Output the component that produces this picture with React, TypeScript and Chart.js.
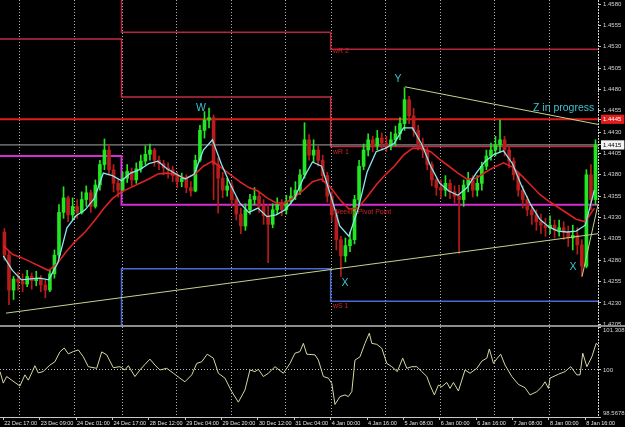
import React, { useEffect, useRef } from 'react';
import { Chart, registerables } from 'chart.js';

Chart.register(...registerables);

const FONT = "'Liberation Sans', Arial, sans-serif";

// ---- time axis (hour bars counted from 22 Dec 17:00) ----
const timeTickHours = [0, 16, 32, 48, 64, 80, 96, 112, 128, 144, 160, 176, 192, 208, 224, 240, 256];
const timeTickLabels = [
  '22 Dec 17:00', '23 Dec 09:00', '24 Dec 01:00', '24 Dec 17:00', '28 Dec 12:00', '29 Dec 04:00',
  '29 Dec 20:00', '30 Dec 12:00', '31 Dec 04:00', '4 Jan 00:00', '4 Jan 16:00', '5 Jan 08:00',
  '6 Jan 00:00', '6 Jan 16:00', '7 Jan 08:00', '8 Jan 00:00', '8 Jan 16:00',
];
const dayStartHours = [7, 31, 52, 76, 100, 124, 144, 168, 192, 216, 240];
const X_MIN = -1.45;
const X_MAX = 261.6;

// ---- candles (2-hour bars) ----
const firstOpen = 1.4313;
const closes = [
  1.4286, 1.4245, 1.4258, 1.4255, 1.4252, 1.4261, 1.4256, 1.4259, 1.4251, 1.4245,
  1.4264, 1.4286, 1.4336, 1.4353, 1.4333, 1.4343, 1.4336, 1.4351, 1.4359, 1.4343,
  1.4368, 1.4392, 1.4409, 1.4386, 1.4370, 1.4362, 1.4376, 1.4384, 1.4374, 1.4387,
  1.4396, 1.4404, 1.4409, 1.4397, 1.4393, 1.4388, 1.4386, 1.4379, 1.4372, 1.4376,
  1.4365, 1.4361, 1.4397, 1.4432, 1.4444, 1.4447, 1.4392, 1.4376, 1.4362, 1.4367,
  1.4351, 1.4334, 1.4320, 1.4339, 1.4351, 1.4355, 1.4343, 1.4332, 1.4322, 1.4339,
  1.4345, 1.4339, 1.4349, 1.4355, 1.4362, 1.4380, 1.4421, 1.4403, 1.4409, 1.4397,
  1.4379, 1.4355, 1.4333, 1.4304, 1.4285, 1.4297, 1.4304, 1.4351, 1.4390, 1.4409,
  1.4421, 1.4414, 1.4423, 1.4417, 1.4414, 1.4421, 1.4428, 1.4440, 1.4468, 1.4449,
  1.4432, 1.4416, 1.4409, 1.4392, 1.4374, 1.4365, 1.4362, 1.4370, 1.4360, 1.4355,
  1.4351, 1.4368, 1.4374, 1.4362, 1.4370, 1.4390, 1.4402, 1.4409, 1.4415, 1.4421,
  1.4409, 1.4396, 1.4380, 1.4362, 1.4351, 1.4339, 1.4333, 1.4325, 1.4321, 1.4318,
  1.4321, 1.4315, 1.4318, 1.4313, 1.4306, 1.4309, 1.4298, 1.4273, 1.4380, 1.4351,
  1.4415,
];
const highs = [
  1.4317, 1.4290, 1.4261, 1.4266, 1.4264, 1.4268, 1.4265, 1.4267, 1.4262, 1.4257,
  1.4268, 1.4292, 1.4345, 1.4366, 1.4355, 1.4353, 1.4351, 1.4360, 1.4367, 1.4362,
  1.4374, 1.4397, 1.4422, 1.4415, 1.4392, 1.4376, 1.4383, 1.4392, 1.4388, 1.4394,
  1.4403, 1.4414, 1.4416, 1.4411, 1.4402, 1.4397, 1.4394, 1.4390, 1.4383, 1.4382,
  1.4380, 1.4372, 1.4403, 1.4438, 1.4454, 1.4458, 1.4450, 1.4400, 1.4383, 1.4376,
  1.4372, 1.4355, 1.4341, 1.4346, 1.4357, 1.4365, 1.4360, 1.4351, 1.4345, 1.4346,
  1.4353, 1.4351, 1.4356, 1.4365, 1.4372, 1.4386, 1.4441, 1.4427, 1.4421, 1.4414,
  1.4403, 1.4383, 1.4360, 1.4339, 1.4308, 1.4306, 1.4313, 1.4356, 1.4397, 1.4416,
  1.4428, 1.4425, 1.4432, 1.4429, 1.4425, 1.4430, 1.4437, 1.4447, 1.4482, 1.4472,
  1.4458, 1.4438, 1.4423, 1.4414, 1.4395, 1.4376, 1.4374, 1.4379, 1.4374, 1.4367,
  1.4368, 1.4374, 1.4383, 1.4379, 1.4379, 1.4395, 1.4409, 1.4417, 1.4425, 1.4444,
  1.4425, 1.4414, 1.4400, 1.4383, 1.4367, 1.4355, 1.4343, 1.4339, 1.4334, 1.4329,
  1.4332, 1.4327, 1.4327, 1.4325, 1.4320, 1.4321, 1.4318, 1.4304, 1.4386, 1.4392,
  1.4421,
];
const lows = [
  1.4280, 1.4228, 1.4234, 1.4245, 1.4243, 1.4249, 1.4246, 1.4250, 1.4243, 1.4236,
  1.4243, 1.4259, 1.4283, 1.4329, 1.4325, 1.4327, 1.4329, 1.4334, 1.4343, 1.4336,
  1.4341, 1.4362, 1.4386, 1.4380, 1.4360, 1.4354, 1.4360, 1.4371, 1.4367, 1.4370,
  1.4383, 1.4392, 1.4397, 1.4390, 1.4386, 1.4380, 1.4376, 1.4372, 1.4365, 1.4366,
  1.4359, 1.4355, 1.4360, 1.4395, 1.4423, 1.4435, 1.4351, 1.4335, 1.4353, 1.4355,
  1.4343, 1.4327, 1.4311, 1.4315, 1.4334, 1.4345, 1.4336, 1.4322, 1.4277, 1.4318,
  1.4334, 1.4332, 1.4334, 1.4346, 1.4351, 1.4357, 1.4376, 1.4397, 1.4395, 1.4390,
  1.4372, 1.4348, 1.4325, 1.4292, 1.4261, 1.4278, 1.4290, 1.4299, 1.4343, 1.4386,
  1.4402, 1.4407, 1.4409, 1.4409, 1.4407, 1.4409, 1.4414, 1.4421, 1.4432, 1.4440,
  1.4425, 1.4409, 1.4400, 1.4386, 1.4367, 1.4356, 1.4353, 1.4355, 1.4352, 1.4347,
  1.4288, 1.4343, 1.4360, 1.4354, 1.4355, 1.4362, 1.4386, 1.4397, 1.4402, 1.4407,
  1.4402, 1.4388, 1.4374, 1.4355, 1.4341, 1.4332, 1.4322, 1.4315, 1.4311, 1.4308,
  1.4311, 1.4306, 1.4308, 1.4304, 1.4296, 1.4292, 1.4287, 1.4261, 1.4271, 1.4339,
  1.4345,
];

// ---- moving averages (sampled every 4 hours from hour 0) ----
const fastMA = [
  1.4285, 1.4268, 1.4257, 1.4258, 1.4259, 1.4257, 1.4277, 1.4318, 1.4332, 1.4339,
  1.4352, 1.4382, 1.4379, 1.4373, 1.4382, 1.4386, 1.4393, 1.4396, 1.4387, 1.4381,
  1.4375, 1.4381, 1.4409, 1.4421, 1.4392, 1.4368, 1.4347, 1.4336, 1.4341, 1.4331,
  1.4333, 1.4339, 1.4352, 1.4376, 1.4395, 1.4390, 1.4356, 1.4320, 1.4308, 1.4339,
  1.4383, 1.4407, 1.4411, 1.4417, 1.4435, 1.4435, 1.4416, 1.4390, 1.4370, 1.4361,
  1.4356, 1.4365, 1.4382, 1.4396, 1.4404, 1.4408, 1.4393, 1.4367, 1.4345, 1.4328,
  1.4319, 1.4314, 1.4313, 1.4314, 1.4321, 1.4362,
];
const slowMA = [
  1.4297, 1.4287, 1.4283, 1.4278, 1.4273, 1.4268, 1.4277, 1.4291, 1.4303, 1.4313,
  1.4326, 1.4340, 1.4352, 1.4360, 1.4365, 1.4370, 1.4375, 1.4381, 1.4382, 1.4380,
  1.4376, 1.4380, 1.4390, 1.4396, 1.4388, 1.4380, 1.4372, 1.4365, 1.4361, 1.4353,
  1.4347, 1.4347, 1.4354, 1.4362, 1.4372, 1.4375, 1.4365, 1.4351, 1.4340, 1.4341,
  1.4354, 1.4368, 1.4380, 1.4390, 1.4403, 1.4411, 1.4411, 1.4407, 1.4398, 1.4390,
  1.4382, 1.4375, 1.4376, 1.4383, 1.4389, 1.4394, 1.4389, 1.4379, 1.4368, 1.4357,
  1.4349, 1.4342, 1.4335, 1.4328, 1.4325, 1.4341,
];

// ---- weekly pivot levels (3 weeks) ----
const weekStartHours = [52, 144];
const weeklyR2 = [1.4601, 1.4547, 1.4527];
const weeklyR1 = [1.4539, 1.4471, 1.4413];
const weeklyPivot = [1.4402, 1.4345, 1.4345];
const weeklyS1 = [1.4180, 1.4270, 1.4232];

// ---- horizontal levels ----
const levelPrice = 1.4445;
const bidPrice = 1.4415;

// ---- trend lines ----
const trendLowHours = [1.2, 261.6];
const trendLowPrices = [1.4218, 1.4311];
const trendYZHours = [176.7, 261.6];
const trendYZPrices = [1.4483, 1.4439];
const trendXHours = [254.6, 261.6];
const trendXPrices = [1.4261, 1.4345];

// ---- price axis ----
const priceTicks = [
  1.4205, 1.4230, 1.4255, 1.4280, 1.4305, 1.4330, 1.4355, 1.4380, 1.4405, 1.4430,
  1.4455, 1.4480, 1.4505, 1.4530, 1.4555, 1.4580,
];
const PRICE_MIN = 1.42041;
const PRICE_MAX = 1.45847;

// ---- momentum sub-window ----
const momHours = [
  -1.45, 0, 1.5, 3.7, 7.3, 9.5, 11, 12.5, 13.9, 15.4, 17.5, 20.5, 22.7, 24.9, 26.8, 28.6, 30.8, 33,
  35.2, 37.4, 41.1, 43.3, 45.5, 48.4, 51.3, 53.5, 55, 57.9, 60.1, 62.3, 64.5, 66.7, 68.9, 71.9,
  74.8, 77.7, 79.9, 82.9, 85.1, 87.3, 89.7, 92.4, 94.6, 97.5, 100.5, 103.4, 106.3, 108.5, 110.7,
  112.2, 114.4, 116.6, 119.5, 123.2, 126.1, 128.3, 130.5, 132, 133.5, 137.1, 138.6, 140.8, 143,
  144.5, 145.9, 148.1, 150.3, 151.8, 153.3, 154.7, 156.9, 159.1, 161, 162.1, 164.3, 166.5, 168.7,
  170.9, 173.3, 175.7, 177.5, 179.7, 181.9, 184.1, 186.3, 187.7, 189.6, 191.4, 192.9, 195.1, 196.5,
  198, 200.2, 203.1, 205.3, 208.3, 210.5, 212.7, 213.8, 215.6, 217.3, 218.8, 220.7, 223.7, 226.6,
  229.5, 231.7, 234.7, 236.9, 238.3, 239.8, 240.5, 244.2, 247.1, 249.6, 252.3, 253.7, 254.9, 256.7,
  258.9, 260.8, 261.6,
];
const momValues = [
  99.95, 99.60, 99.80, 99.69, 99.51, 99.85, 99.69, 99.91, 100.13, 99.91, 99.95, 100.15, 100.25, 100.55,
  100.67, 100.49, 100.56, 100.61, 100.40, 100.10, 100.05, 100.55, 100.46, 100.07, 100.10, 100.00,
  100.13, 99.80, 100.00, 100.17, 100.33, 100.15, 100.00, 100.05, 99.90, 99.75, 99.64, 99.85, 100.20,
  100.25, 100.48, 100.36, 99.90, 99.75, 99.34, 99.02, 99.39, 100.00, 99.95, 100.02, 99.80, 99.90,
  100.10, 99.90, 100.20, 100.51, 100.56, 100.81, 100.48, 100.46, 100.30, 99.80, 99.75, 99.59, 98.95,
  99.19, 99.24, 99.19, 99.34, 100.30, 100.40, 100.81, 101.12, 100.81, 100.78, 100.66, 100.20, 100.10,
  99.95, 100.36, 100.05, 100.10, 100.10, 99.95, 99.80, 99.54, 99.24, 99.54, 99.49, 99.62, 99.44,
  99.62, 99.36, 100.00, 99.90, 100.05, 100.27, 100.36, 100.64, 100.20, 100.36, 100.48, 100.15, 99.80,
  99.56, 99.46, 99.24, 99.34, 99.49, 99.64, 99.44, 99.75, 99.87, 99.95, 100.10, 99.85, 99.85, 100.51,
  100.10, 100.40, 100.81, 100.76,
];
const momTicks = [98.5678, 100, 101.308];
const momTickLabels = ['98.5678', '100', '101.308'];
const MOM_MIN = 98.5678;
const MOM_MAX = 101.308;

// ---- text annotations ----
const waveLabels = ['W', 'Y', 'X', 'X', 'Z in progress'];
const waveLabelHours = [87, 173.6, 150.3, 250.6, 233];
const waveLabelPrices = [1.4458, 1.4492, 1.4253, 1.4272, 1.4458];
const pivotLabels = ['wR 2', 'wR 1', 'Weekly Pivot Point', 'wS 1'];
const pivotLabelHour = 145;
const pivotLabelPrices = [1.4525, 1.4407, 1.4336, 1.4226];

const BULL = '#22e622';
const BEAR = '#b81c1c';

function weeklySteps(vals: number[]) {
  return [
    { x: X_MIN, y: vals[0] },
    { x: weekStartHours[0], y: vals[1] },
    { x: weekStartHours[1], y: vals[2] },
    { x: X_MAX, y: vals[2] },
  ];
}

function pairs(xs: number[], ys: number[]) {
  return xs.map((x, i) => ({ x, y: ys[i] }));
}

// vertical dotted day separators, placed through the x scale
const daySeparatorPlugin = {
  id: 'daySeparators',
  beforeDatasetsDraw(chart: any) {
    const { ctx, chartArea, scales } = chart;
    ctx.save();
    ctx.strokeStyle = '#b4b4b4';
    ctx.lineWidth = 1;
    ctx.setLineDash([1, 2]);
    dayStartHours.forEach((h) => {
      const px = Math.round(scales.x.getPixelForValue(h)) + 0.5;
      ctx.beginPath();
      ctx.moveTo(px, chartArea.top);
      ctx.lineTo(px, chartArea.bottom);
      ctx.stroke();
    });
    ctx.restore();
  },
};

const labelPlugin = {
  id: 'waveLabels',
  afterDatasetsDraw(chart: any) {
    const { ctx, scales } = chart;
    const xs = scales.x;
    const ys = scales.y;
    ctx.save();
    ctx.textBaseline = 'middle';
    ctx.font = `10.5px ${FONT}`;
    ctx.fillStyle = '#3ec4d0';
    waveLabels.forEach((t, i) => {
      ctx.textAlign = t.length > 1 ? 'left' : 'center';
      ctx.fillText(t, xs.getPixelForValue(waveLabelHours[i]), ys.getPixelForValue(waveLabelPrices[i]));
    });
    ctx.font = `7px ${FONT}`;
    ctx.fillStyle = '#d02424';
    ctx.textAlign = 'left';
    pivotLabels.forEach((t, i) => {
      ctx.fillText(t, xs.getPixelForValue(pivotLabelHour), ys.getPixelForValue(pivotLabelPrices[i]));
    });
    ctx.restore();
  },
};

export default function App() {
  const mainRef = useRef<HTMLCanvasElement>(null);
  const subRef = useRef<HTMLCanvasElement>(null);

  useEffect(() => {
    const opens = closes.map((_, j) => (j === 0 ? firstOpen : closes[j - 1]));
    const barHours = closes.map((_, j) => 2 * j + 0.5);
    const colors = closes.map((c, j) => (c >= opens[j] ? BULL : BEAR));
    const maHours = fastMA.map((_, k) => k * 4);

    const axisFont = { family: FONT, size: 6 };
    const timeFont = { family: FONT, size: 5.5 };

    const main = new Chart(mainRef.current as HTMLCanvasElement, {
      type: 'bar',
      data: {
        datasets: [
          {
            type: 'line', label: 'trendX', data: pairs(trendXHours, trendXPrices) as any,
            borderColor: '#c4d48c', borderWidth: 1, pointRadius: 0, order: 1,
          } as any,
          {
            type: 'line', label: 'trendYZ', data: pairs(trendYZHours, trendYZPrices) as any,
            borderColor: '#c4d48c', borderWidth: 1, pointRadius: 0, order: 1,
          },
          {
            type: 'line', label: 'trendLow', data: pairs(trendLowHours, trendLowPrices) as any,
            borderColor: '#c4d48c', borderWidth: 1, pointRadius: 0, order: 1,
          },
          {
            type: 'line', label: 'fast MA', data: pairs(maHours, fastMA) as any,
            borderColor: '#8ae6f0', borderWidth: 1.3, pointRadius: 0, order: 2,
          },
          {
            type: 'line', label: 'slow MA', data: pairs(maHours, slowMA) as any,
            borderColor: '#dc2222', borderWidth: 1.6, pointRadius: 0, order: 3,
          },
          {
            type: 'bar', label: 'bodies',
            data: barHours.map((h, j) => ({ x: h, y: [opens[j], closes[j]] })) as any,
            backgroundColor: colors, borderWidth: 0, barThickness: 3, minBarLength: 1,
            grouped: false, order: 4,
          },
          {
            type: 'bar', label: 'wicks',
            data: barHours.map((h, j) => ({ x: h, y: [lows[j], highs[j]] })) as any,
            backgroundColor: colors, borderWidth: 0, barThickness: 1, grouped: false, order: 5,
          },
          {
            type: 'line', label: 'bid', data: [{ x: X_MIN, y: bidPrice }, { x: X_MAX, y: bidPrice }] as any,
            borderColor: '#a8a8a8', borderWidth: 1, pointRadius: 0, order: 6,
          },
          {
            type: 'line', label: 'level', data: [{ x: X_MIN, y: levelPrice }, { x: X_MAX, y: levelPrice }] as any,
            borderColor: '#e01c1c', borderWidth: 2, pointRadius: 0, order: 6,
          },
          {
            type: 'line', label: 'wR2', data: weeklySteps(weeklyR2) as any, stepped: true,
            borderColor: '#b4243e', borderWidth: 1.5, pointRadius: 0, order: 7,
          },
          {
            type: 'line', label: 'wR1', data: weeklySteps(weeklyR1) as any, stepped: true,
            borderColor: '#c42a44', borderWidth: 1.5, pointRadius: 0, order: 7,
          },
          {
            type: 'line', label: 'wP', data: weeklySteps(weeklyPivot) as any, stepped: true,
            borderColor: '#d22ed2', borderWidth: 2, pointRadius: 0, order: 7,
          },
          {
            type: 'line', label: 'wS1', data: weeklySteps(weeklyS1) as any, stepped: true,
            borderColor: '#4a6ad8', borderWidth: 1.5, pointRadius: 0, order: 7,
          },
        ],
      },
      options: {
        animation: false,
        responsive: false,
        events: [],
        layout: { padding: 0 },
        plugins: { legend: { display: false }, tooltip: { enabled: false } },
        scales: {
          x: {
            type: 'linear', min: X_MIN, max: X_MAX, bounds: 'data', position: 'bottom', offset: false,
            ticks: { display: false, autoSkip: false },
            grid: { display: false, offset: false },
            border: { display: false },
            afterFit: (s: any) => { s.height = 0; s.paddingLeft = 0; s.paddingRight = 0; },
          },
          y: {
            type: 'linear', position: 'right', min: PRICE_MIN, max: PRICE_MAX, bounds: 'data',
            ticks: {
              autoSkip: false,
              padding: 2,
              font: axisFont,
              color: (c: any) => (c.tick && c.tick.value === levelPrice ? '#ffffff'
                : c.tick && c.tick.value === bidPrice ? '#000000' : '#d4d4d4'),
              showLabelBackdrop: (c: any) => !!c.tick && (c.tick.value === levelPrice || c.tick.value === bidPrice),
              backdropColor: (c: any) => (c.tick && c.tick.value === levelPrice ? '#e01c1c' : '#f2f2f2'),
              backdropPadding: { left: 2, right: 3, top: 1, bottom: 1 },
              callback: (v: any) => Number(v).toFixed(4),
            },
            grid: { drawOnChartArea: false, drawTicks: true, tickLength: 3, tickColor: '#c8c8c8' },
            border: { display: false },
            afterBuildTicks: (s: any) => {
              s.ticks = [...priceTicks, levelPrice, bidPrice].sort((a, b) => a - b).map((v) => ({ value: v }));
            },
            afterFit: (s: any) => { s.width = 27; s.paddingTop = 0; s.paddingBottom = 0; },
          },
        },
      } as any,
      plugins: [daySeparatorPlugin, labelPlugin],
    });

    const sub = new Chart(subRef.current as HTMLCanvasElement, {
      type: 'line',
      data: {
        datasets: [
          {
            label: 'Momentum', data: pairs(momHours, momValues) as any,
            borderColor: '#d6d6a2', borderWidth: 1, pointRadius: 0, tension: 0,
          },
        ],
      },
      options: {
        animation: false,
        responsive: false,
        events: [],
        layout: { padding: 0 },
        plugins: { legend: { display: false }, tooltip: { enabled: false } },
        scales: {
          x: {
            type: 'linear', min: X_MIN, max: X_MAX, bounds: 'data', position: 'bottom', offset: false,
            ticks: {
              autoSkip: false, maxRotation: 0, minRotation: 0, align: 'start',
              color: '#e4e4e4', font: timeFont, padding: 0.5, labelOffset: 1,
              callback: (_v: any, i: number) => timeTickLabels[i],
            },
            grid: { drawOnChartArea: false, drawTicks: true, tickLength: 3, tickColor: '#c8c8c8', color: '#c8c8c8' },
            border: { display: true, color: '#c8c8c8', width: 1 },
            afterBuildTicks: (s: any) => { s.ticks = timeTickHours.map((v) => ({ value: v })); },
            afterFit: (s: any) => { s.height = 10; s.paddingLeft = 0; s.paddingRight = 0; },
          },
          y: {
            type: 'linear', position: 'right', min: MOM_MIN, max: MOM_MAX, bounds: 'data',
            ticks: {
              autoSkip: false, padding: 2, font: axisFont, color: '#d4d4d4',
              callback: (_v: any, i: number) => (i === 0 ? [momTickLabels[0], ''] : i === momTicks.length - 1 ? ['', momTickLabels[i]] : momTickLabels[i]),
            },
            grid: {
              drawOnChartArea: true, drawTicks: true, tickLength: 3, tickColor: '#c8c8c8',
              color: (c: any) => (c.tick && c.tick.value === 100 ? '#b8b8b8' : 'rgba(0,0,0,0)'),
            },
            border: { display: false, dash: [1, 2] },
            afterBuildTicks: (s: any) => { s.ticks = momTicks.map((v) => ({ value: v })); },
            afterFit: (s: any) => { s.width = 27; s.paddingTop = 0; s.paddingBottom = 0; },
          },
        },
      } as any,
      plugins: [daySeparatorPlugin],
    });

    return () => { main.destroy(); sub.destroy(); };
  }, []);

  return (
    <div style={{ position: 'fixed', left: 0, top: 0, width: 625, height: 427, background: '#000', overflow: 'hidden' }}>
      <canvas ref={mainRef} width={625} height={325} style={{ position: 'absolute', left: 0, top: 0, width: 625, height: 325 }} />
      <div style={{ position: 'absolute', left: 0, top: 325, width: 625, height: 2, background: '#8c8c8c' }} />
      <canvas ref={subRef} width={625} height={100} style={{ position: 'absolute', left: 0, top: 327, width: 625, height: 100 }} />
      <div style={{ position: 'absolute', left: 598, top: 0, width: 1, height: 417, background: 'repeating-linear-gradient(to bottom, #d0d0d0 0px, #d0d0d0 2px, transparent 2px, transparent 3px)' }} />
    </div>
  );
}
